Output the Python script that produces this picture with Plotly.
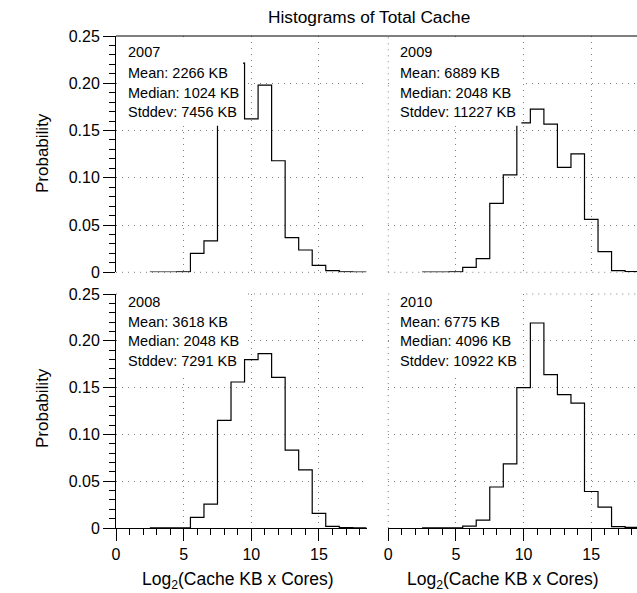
import plotly.graph_objects as go

# ---- data ----
bin_centers = list(range(3, 19))  # log2 bins, width 1
p2007 = [0.0003, 0.0003, 0.0005, 0.0201, 0.0332, 0.176, 0.2214, 0.1624,
         0.198, 0.118, 0.0367, 0.0236, 0.0074, 0.0018, 0.0005, 0.0002]
p2009 = [0.0002, 0.0002, 0.0005, 0.0053, 0.0144, 0.073, 0.103, 0.158,
         0.1727, 0.1568, 0.111, 0.1253, 0.056, 0.0218, 0.0017, 0.0008]
p2008 = [0.0002, 0.0002, 0.0002, 0.0113, 0.0256, 0.115, 0.156, 0.1798,
         0.1862, 0.161, 0.0833, 0.062, 0.0156, 0.0017, 0.0003, 0.0001]
p2010 = [0.0002, 0.0002, 0.0002, 0.0021, 0.0085, 0.0438, 0.0684, 0.150,
         0.219, 0.1638, 0.1424, 0.1335, 0.039, 0.0224, 0.0014, 0.0007]

years = ["2007", "2009", "2008", "2010"]
means = ["2266 KB", "6889 KB", "3618 KB", "6775 KB"]
medians = ["1024 KB", "2048 KB", "2048 KB", "4096 KB"]
stddevs = ["7456 KB", "11227 KB", "7291 KB", "10922 KB"]
series = [p2007, p2009, p2008, p2010]

y_tick_vals = [0, 0.05, 0.10, 0.15, 0.20, 0.25]
y_tick_text = ["0", "0.05", "0.10", "0.15", "0.20", "0.25"]
x_tick_vals = [0, 5, 10, 15]
x_tick_text = ["0", "5", "10", "15"]

FONT = "Liberation Sans, Arial, Helvetica, sans-serif"
GRIDCOLOR = "#808080"
GRIDDASH = "1px,5px"
GRID = dict(showgrid=True, gridcolor=GRIDCOLOR, gridwidth=1, griddash=GRIDDASH, zeroline=False)

# ---- layout geometry ----
W, H = 637, 593
ML, MR, MT, MB = 116, 0, 36, 65
xdom_left = [0, 0.4818]
xdom_right = [0.5226, 1.0]
ydom_top = [0.5197, 1.0]
ydom_bot = [0, 0.4756]
xr_left = [0, 18.55]
xr_right = [0, 18.38]

fig = go.Figure()

axis_ids = ["", "2", "3", "4"]
for i, vals in enumerate(series):
    edges = [c - 0.5 for c in bin_centers] + [bin_centers[-1] + 0.5]
    yy = list(vals) + [vals[-1]]
    fig.add_trace(go.Scatter(
        x=edges, y=yy, mode="lines", line=dict(color="black", width=1.2, shape="hv"),
        xaxis="x" + axis_ids[i], yaxis="y" + axis_ids[i], showlegend=False, hoverinfo="skip"))

def xaxis(dom, rng, anchor, bottom):
    d = dict(domain=dom, range=rng, anchor=anchor, tickmode="array", tickvals=x_tick_vals,
             ticktext=x_tick_text, **GRID)
    if bottom:
        d.update(showline=True, linecolor="black", linewidth=1, ticks="outside", ticklen=12,
                 tickwidth=1, tickcolor="black", showticklabels=True,
                 tickfont=dict(family=FONT, size=16, color="black"),
                 minor=dict(tickmode="linear", tick0=0, dtick=1, ticks="outside", ticklen=6,
                            tickwidth=1, tickcolor="black", showgrid=False))
    else:
        d.update(showline=False, ticks="", showticklabels=False)
    return d

def yaxis(dom, anchor, left):
    d = dict(domain=dom, range=[0, 0.25], anchor=anchor, tickmode="array", tickvals=y_tick_vals,
             ticktext=y_tick_text, **GRID)
    if left:
        d.update(showline=True, linecolor="black", linewidth=1, ticks="outside", ticklen=12,
                 tickwidth=1, tickcolor="black", showticklabels=True,
                 tickfont=dict(family=FONT, size=16, color="black"),
                 minor=dict(tickmode="linear", tick0=0, dtick=0.01, ticks="outside", ticklen=6,
                            tickwidth=1, tickcolor="black", showgrid=False))
    else:
        d.update(showline=False, ticks="", showticklabels=False)
    return d

layout = dict(
    width=W, height=H, margin=dict(l=ML, r=MR, t=MT, b=MB),
    paper_bgcolor="white", plot_bgcolor="white",
    font=dict(family=FONT, color="black"),
    xaxis=xaxis(xdom_left, xr_left, "y", False),
    yaxis=yaxis(ydom_top, "x", True),
    xaxis2=xaxis(xdom_right, xr_right, "y2", False),
    yaxis2=yaxis(ydom_top, "x2", False),
    xaxis3=xaxis(xdom_left, xr_left, "y3", True),
    yaxis3=yaxis(ydom_bot, "x3", True),
    xaxis4=xaxis(xdom_right, xr_right, "y4", True),
    yaxis4=yaxis(ydom_bot, "x4", False),
)

shapes = []
annotations = []

# dotted grid lines at the panel edges (plotly drops grid lines on the range ends)
edge_grid = dict(color=GRIDCOLOR, width=1, dash=GRIDDASH)
for i in (0, 1):  # top panels: baseline at 0
    shapes.append(dict(type="line", xref="x" + axis_ids[i] + " domain", yref="y" + axis_ids[i] + " domain",
                       x0=0, x1=1, y0=0, y1=0, line=edge_grid, layer="below"))
for i in (2, 3):  # bottom panels: line at 0.25
    shapes.append(dict(type="line", xref="x" + axis_ids[i] + " domain", yref="y" + axis_ids[i] + " domain",
                       x0=0, x1=1, y0=1, y1=1, line=edge_grid, layer="below"))
for i in (1, 3):  # right panels: x = 0
    shapes.append(dict(type="line", xref="x" + axis_ids[i] + " domain", yref="y" + axis_ids[i] + " domain",
                       x0=0, x1=0, y0=0, y1=1, line=edge_grid, layer="below"))

# per-panel text boxes
box_x = [(0.006, 0.506), (0.016, 0.535), (0.006, 0.506), (0.016, 0.535)]
box_y = [(0.62, 0.995), (0.62, 0.995), (0.641, 1.004), (0.641, 1.004)]
text_x = [0.040, 0.038, 0.040, 0.038]
line_y = [[0.933, 0.843, 0.760, 0.677], [0.933, 0.843, 0.760, 0.677],
          [0.967, 0.882, 0.801, 0.714], [0.967, 0.882, 0.801, 0.714]]
for i in range(4):
    xa = "x" + axis_ids[i]
    ya = "y" + axis_ids[i]
    shapes.append(dict(type="rect", xref=xa + " domain", yref=ya + " domain",
                       x0=box_x[i][0], x1=box_x[i][1], y0=box_y[i][0], y1=box_y[i][1],
                       fillcolor="white", line=dict(width=0), layer="above"))
    lines = [years[i], "Mean: " + means[i], "Median: " + medians[i], "Stddev: " + stddevs[i]]
    for txt, yy in zip(lines, line_y[i]):
        annotations.append(dict(text=txt, xref=xa + " domain", yref=ya + " domain",
                                x=text_x[i], y=yy, xanchor="left", yanchor="middle",
                                showarrow=False, font=dict(family=FONT, size=14.5, color="black")))

# solid top frame line across both top panels
shapes.append(dict(type="line", xref="paper", yref="paper", x0=0, x1=1, y0=1, y1=1,
                   line=dict(color="black", width=1), layer="above"))

# titles
pw = W - ML - MR
ph = H - MT - MB
annotations.append(dict(text="Histograms of Total Cache", xref="paper", yref="paper",
                        x=(369 - ML) / pw, y=1 + (MT - 17) / ph, xanchor="center", yanchor="middle",
                        showarrow=False, font=dict(family=FONT, size=17.3, color="black")))
for yc in (153, 408):
    annotations.append(dict(text="Probability", xref="paper", yref="paper",
                            x=(42 - ML) / pw, y=(H - MB - yc) / ph, xanchor="center", yanchor="middle",
                            textangle=-90, showarrow=False, font=dict(family=FONT, size=17, color="black")))
for xc in (238, 503):
    annotations.append(dict(text="Log<sub>2</sub>(Cache KB x Cores)", xref="paper", yref="paper",
                            x=(xc - ML) / pw, y=-(580 - (H - MB)) / ph, xanchor="center", yanchor="middle",
                            showarrow=False, font=dict(family=FONT, size=17.5, color="black")))

layout["shapes"] = shapes
layout["annotations"] = annotations
fig.update_layout(**layout)
fig.write_html("out.html")
